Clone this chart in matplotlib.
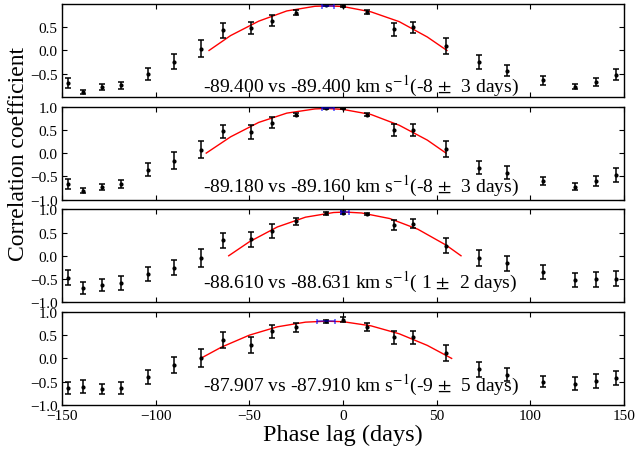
import numpy as np
import matplotlib
matplotlib.use("Agg")
import matplotlib.pyplot as plt

plt.rcParams['font.family'] = 'serif'
plt.rcParams['font.serif'] = ['Liberation Serif', 'DejaVu Serif']
plt.rcParams['mathtext.fontset'] = 'stix'

# phase lag of each CCF point (days), same for all panels
lags = [-147, -139, -128.5, -118.5, -104, -90, -76, -64, -49, -38, -25, -9, 0,
        13, 27.5, 37.5, 55, 72.5, 87.5, 107, 124, 135, 146]

# correlation coefficients and errors, one pair per panel
r1 = [-0.70, -0.89, -0.79, -0.75, -0.50, -0.24, 0.04, 0.43, 0.48, 0.64, 0.81, 0.97, 0.96,
      0.82, 0.46, 0.50, 0.09, -0.25, -0.44, -0.64, -0.78, -0.68, -0.52]
e1 = [0.10, 0.04, 0.06, 0.07, 0.13, 0.16, 0.19, 0.16, 0.13, 0.12, 0.05, 0.02, 0.02,
      0.04, 0.14, 0.12, 0.17, 0.15, 0.12, 0.10, 0.05, 0.08, 0.12]
r2 = [-0.66, -0.81, -0.73, -0.66, -0.36, -0.16, 0.07, 0.47, 0.45, 0.65, 0.83, 0.96, 0.96,
      0.83, 0.50, 0.50, 0.09, -0.31, -0.42, -0.60, -0.72, -0.60, -0.48]
e2 = [0.11, 0.05, 0.07, 0.08, 0.14, 0.18, 0.18, 0.14, 0.15, 0.12, 0.04, 0.02, 0.02,
      0.04, 0.13, 0.13, 0.17, 0.15, 0.14, 0.09, 0.07, 0.10, 0.15]
r3 = [-0.47, -0.69, -0.62, -0.58, -0.40, -0.26, -0.05, 0.33, 0.35, 0.53, 0.74, 0.91, 0.93,
      0.90, 0.66, 0.69, 0.22, -0.04, -0.16, -0.35, -0.53, -0.51, -0.49]
e3 = [0.16, 0.13, 0.13, 0.15, 0.15, 0.16, 0.20, 0.16, 0.16, 0.15, 0.07, 0.03, 0.03,
      0.03, 0.10, 0.09, 0.16, 0.17, 0.16, 0.16, 0.15, 0.16, 0.16]
r4 = [-0.63, -0.61, -0.66, -0.63, -0.40, -0.14, 0.01, 0.40, 0.29, 0.58, 0.67, 0.80, 0.83,
      0.68, 0.45, 0.45, 0.11, -0.23, -0.35, -0.50, -0.54, -0.49, -0.43]
e4 = [0.13, 0.14, 0.10, 0.13, 0.16, 0.17, 0.19, 0.17, 0.17, 0.14, 0.10, 0.03, 0.05,
      0.09, 0.14, 0.15, 0.17, 0.16, 0.14, 0.12, 0.13, 0.15, 0.15]

# red parabola fit
fit_x1 = [-71.5, -60, -45, -30, -15, -8, 0, 15, 30, 45, 55.5]
fit_y1 = [0.0, 0.32, 0.63, 0.85, 0.95, 0.96, 0.945, 0.83, 0.62, 0.29, 0.0]
fit_x2 = [-73, -60, -45, -30, -15, -9, 0, 15, 30, 45, 55]
fit_y2 = [0.0, 0.35, 0.66, 0.86, 0.95, 0.96, 0.94, 0.83, 0.60, 0.28, 0.0]
fit_x3 = [-61, -50, -35, -20, -5, 1, 10, 25, 40, 55, 63]
fit_y3 = [0.0, 0.30, 0.62, 0.83, 0.93, 0.94, 0.92, 0.80, 0.57, 0.23, 0.0]
fit_x4 = [-76, -65, -50, -35, -20, -9, 0, 15, 30, 45, 58]
fit_y4 = [0.0, 0.24, 0.50, 0.68, 0.78, 0.80, 0.79, 0.70, 0.53, 0.28, 0.0]

# peak lag +- error (blue bar) and labels
peak_lag = [-8, -8, 1, -9]
peak_err = [3, 3, 2, 5]
peak_r = [0.96, 0.96, 0.94, 0.80]
vel_a = ['-89.400', '-89.180', '-88.610', '-87.907']
vel_b = ['-89.400', '-89.160', '-88.631', '-87.910']

rs = [r1, r2, r3, r4]
es = [e1, e2, e3, e4]
fxs = [fit_x1, fit_x2, fit_x3, fit_x4]
fys = [fit_y1, fit_y2, fit_y3, fit_y4]
text_y = [-0.89, -0.83, -0.69, -0.68]

fig, axes = plt.subplots(4, 1, figsize=(6.39, 4.52), dpi=100, sharex=True)
fig.subplots_adjust(left=0.097, right=0.9765, top=0.989, bottom=0.102, hspace=0.104)

for i, ax in enumerate(axes):
    ax.errorbar(lags, rs[i], yerr=es[i], fmt='o', color='black', ms=2,
                elinewidth=1.1, capsize=2.2, capthick=1.1, zorder=3)
    ax.plot(fxs[i], fys[i], color='red', lw=1.0, zorder=2)
    # horizontal bar for the peak lag: purple-ish line, blue caps
    ax.errorbar([peak_lag[i]], [peak_r[i]], xerr=[peak_err[i]], fmt='none',
                ecolor='blue', alpha=0.55, elinewidth=1.2, capsize=1.8, capthick=1.4, zorder=4)
    label = (f"{vel_a[i]} vs {vel_b[i]} km s$^{{-1}}$"
             f"({peak_lag[i]:2d} $\\pm$ {peak_err[i]:2d} days)")
    ax.text(-74.7, text_y[i], label, fontsize=14, ha='left', va='baseline')
    ax.set_xlim(-150, 150)
    ax.set_ylim(-1.0, 1.0)
    ax.set_xticks([-150, -100, -50, 0, 50, 100, 150])
    if i == 0:
        ax.set_yticks([-0.5, 0.0, 0.5])
    else:
        ax.set_yticks([-1.0, -0.5, 0.0, 0.5, 1.0])
    ax.tick_params(direction='in', top=True, right=True, length=3.5, labelsize=11, pad=3)
    for sp in ax.spines.values():
        sp.set_linewidth(1.0)

axes[1].set_ylabel('Correlation coefficient', fontsize=17, labelpad=1)
axes[3].set_xlabel('Phase lag (days)', fontsize=17.5, labelpad=1)

fig.savefig('out.png', dpi=100)
